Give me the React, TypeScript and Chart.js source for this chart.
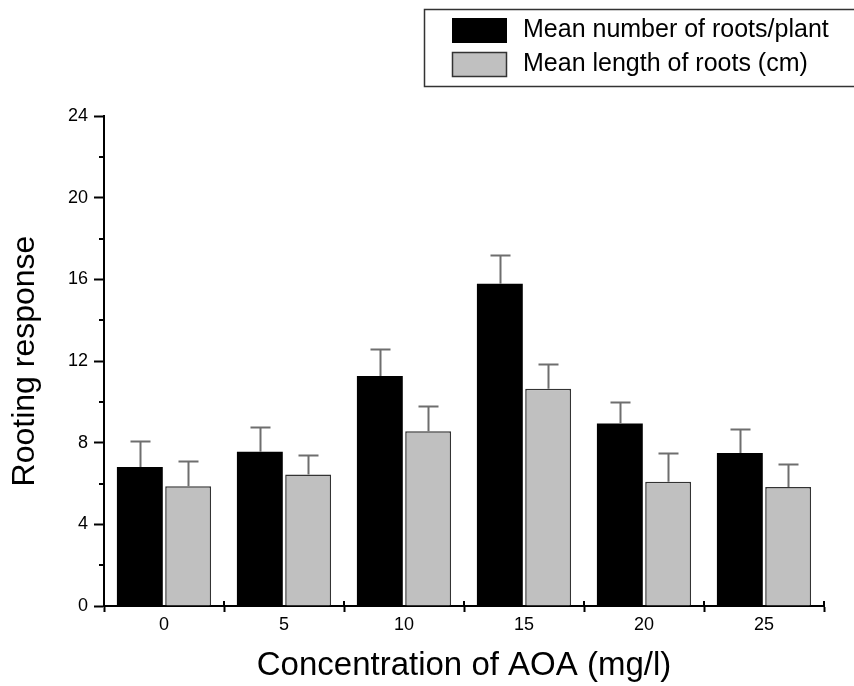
import React, { useEffect, useRef } from "react";
import { Chart, registerables } from "chart.js";

Chart.register(...registerables);

const categories = ["0", "5", "10", "15", "20", "25"];
const rootNumber = [6.81, 7.55, 11.26, 15.78, 8.94, 7.5];
const rootNumberErr = [1.26, 1.21, 1.34, 1.41, 1.06, 1.19];
const rootLength = [5.87, 6.44, 8.56, 10.64, 6.08, 5.83];
const rootLengthErr = [1.22, 0.98, 1.26, 1.21, 1.4, 1.13];
const seriesLabels = ["Mean number of roots/plant", "Mean length of roots (cm)"];
const yMin = 0;
const yMax = 24;
const yStep = 4;
const yMinorStep = 2;
const xTitle = "Concentration of AOA (mg/l)";
const yTitle = "Rooting response";

const FONT = '"Liberation Sans", Arial, Helvetica, sans-serif';

const errorBarPlugin = {
  id: "errorBars",
  afterDatasetsDraw(chart: any) {
    const ctx = chart.ctx;
    const yScale = chart.scales.y;
    const errs = [rootNumberErr, rootLengthErr];
    ctx.save();
    ctx.strokeStyle = "#6e6e6e";
    ctx.lineWidth = 2;
    chart.data.datasets.forEach((ds: any, d: number) => {
      const meta = chart.getDatasetMeta(d);
      meta.data.forEach((bar: any, i: number) => {
        const v = ds.data[i];
        const e = errs[d][i];
        const y0 = yScale.getPixelForValue(v);
        const y1 = yScale.getPixelForValue(v + e);
        const x = Math.round(bar.x) + 0.5;
        ctx.beginPath();
        ctx.moveTo(x, y0);
        ctx.lineTo(x, y1);
        ctx.moveTo(x - 10, Math.round(y1) + 0.5);
        ctx.lineTo(x + 10, Math.round(y1) + 0.5);
        ctx.stroke();
      });
    });
    ctx.restore();
  },
};

const axisExtrasPlugin = {
  id: "axisExtras",
  afterDraw(chart: any) {
    const ctx = chart.ctx;
    const x = chart.scales.x;
    const y = chart.scales.y;
    ctx.save();
    ctx.strokeStyle = "#000";
    ctx.lineWidth = 2;
    for (let v = yMin + yMinorStep; v < yMax; v += yStep) {
      const py = Math.round(y.getPixelForValue(v));
      ctx.beginPath();
      ctx.moveTo(chart.chartArea.left - 5, py);
      ctx.lineTo(chart.chartArea.left, py);
      ctx.stroke();
    }
    const base = chart.chartArea.bottom;
    for (let i = 0; i <= categories.length; i++) {
      const px = Math.round(x.getPixelForValue(i - 0.5));
      ctx.beginPath();
      ctx.moveTo(px, base - 5);
      ctx.lineTo(px, base);
      ctx.stroke();
    }
    ctx.restore();
  },
};

const legendPlugin = {
  id: "boxLegend",
  afterDraw(chart: any) {
    const ctx = chart.ctx;
    ctx.save();
    ctx.strokeStyle = "#333";
    ctx.lineWidth = 1.5;
    ctx.strokeRect(424.5, 9.5, 440, 77);
    const rows = [30.5, 64.5];
    chart.data.datasets.forEach((ds: any, d: number) => {
      const cy = rows[d];
      ctx.fillStyle = ds.backgroundColor;
      ctx.fillRect(452, cy - 12.5, 55, 25);
      if (d === 1) {
        ctx.strokeStyle = "#333";
        ctx.lineWidth = 1.5;
        ctx.strokeRect(452.5, cy - 12, 54, 24);
      }
      ctx.fillStyle = "#000";
      ctx.font = `25px ${FONT}`;
      ctx.textBaseline = "middle";
      ctx.textAlign = "left";
      ctx.fillText(ds.label, 523, cy);
    });
    ctx.restore();
  },
};

export default function App() {
  const ref = useRef<HTMLCanvasElement | null>(null);

  useEffect(() => {
    if (!ref.current) return;
    Chart.defaults.font.family = FONT;
    Chart.defaults.color = "#000";
    const chart = new Chart(ref.current, {
      type: "bar",
      data: {
        labels: categories,
        datasets: [
          {
            label: seriesLabels[0],
            data: rootNumber,
            backgroundColor: "#000000",
            borderColor: "#000000",
            borderWidth: 0,
            categoryPercentage: 0.805,
            barPercentage: 0.95,
          },
          {
            label: seriesLabels[1],
            data: rootLength,
            backgroundColor: "#c0c0c0",
            borderColor: "#333333",
            borderWidth: 1.5,
            categoryPercentage: 0.805,
            barPercentage: 0.95,
          },
        ],
      },
      options: {
        responsive: false,
        animation: false,
        layout: { padding: { left: 0, right: 30, top: 116, bottom: 0 } },
        plugins: {
          legend: { display: false },
          tooltip: { enabled: false },
          title: { display: false },
        },
        scales: {
          x: {
            offset: true,
            grid: {
              display: true,
              drawOnChartArea: false,
              offset: true,
              tickLength: 6,
              tickWidth: 2,
              tickColor: "#000",
            },
            border: { display: true, color: "#000", width: 2 },
            ticks: { font: { size: 18 }, color: "#000", padding: 2, maxRotation: 0 },
            title: {
              display: true,
              text: xTitle,
              font: { size: 33 },
              color: "#000",
              padding: { top: 0, bottom: 0 },
            },
            afterFit: (s: any) => {
              s.height = 80;
            },
          },
          y: {
            min: yMin,
            max: yMax,
            grid: {
              display: true,
              drawOnChartArea: false,
              tickLength: 10,
              tickWidth: 2,
              tickColor: "#000",
            },
            border: { display: true, color: "#000", width: 2 },
            ticks: { stepSize: yStep, font: { size: 18 }, color: "#000", padding: 6 },
            title: {
              display: true,
              text: yTitle,
              font: { size: 32 },
              color: "#000",
              padding: { top: 6, bottom: 0 },
            },
            afterFit: (s: any) => {
              s.width = 104;
            },
          },
        },
      },
      plugins: [errorBarPlugin, axisExtrasPlugin, legendPlugin],
    });
    return () => chart.destroy();
  }, []);

  return (
    <div style={{ position: "fixed", left: 0, top: 0, width: 854, height: 686, background: "#fff" }}>
      <canvas ref={ref} width={854} height={686} style={{ width: 854, height: 686 }} />
    </div>
  );
}
